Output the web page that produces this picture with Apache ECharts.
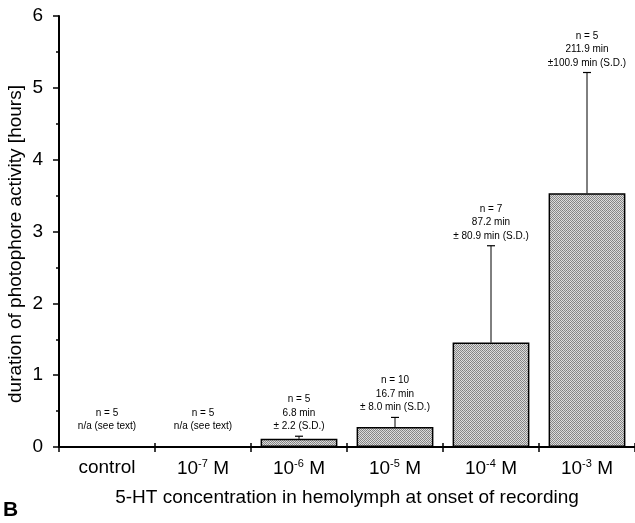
<!DOCTYPE html>
<html>
<head>
<meta charset="utf-8">
<script src="https://cdn.jsdelivr.net/npm/echarts@6/dist/echarts.min.js"></script>
<style>
html,body{margin:0;padding:0;background:#fff;}
#chart{width:635px;height:523px;}
</style>
</head>
<body>
<div id="chart"></div>
<script>
// ---- data ----
var categories = ['control', '10{sup|-7} M', '10{sup|-6} M', '10{sup|-5} M', '10{sup|-4} M', '10{sup|-3} M'];
var nValues = [5, 5, 5, 10, 7, 5];
var meanMinutes = [null, null, 6.8, 16.7, 87.2, 211.9];
var sdMinutes = [null, null, 2.2, 8.0, 80.9, 100.9];
var annotationLines = [
  ['n = 5', 'n/a (see text)'],
  ['n = 5', 'n/a (see text)'],
  ['n = 5', '6.8 min', '\u00b1 2.2 (S.D.)'],
  ['n = 10', '16.7 min', '\u00b1 8.0 min (S.D.)'],
  ['n = 7', '87.2 min', '\u00b1 80.9 min (S.D.)'],
  ['n = 5', '211.9 min', '\u00b1100.9 min (S.D.)']
];
var yTicks = [0, 1, 2, 3, 4, 5, 6];
var yTitle = 'duration of photophore activity [hours]';
var xTitle = '5-HT concentration in hemolymph at onset of recording';

// ---- derived (hours) ----
var meanHours = meanMinutes.map(function (v) { return v == null ? null : v / 60; });
var topHours = meanMinutes.map(function (v, i) { return v == null ? null : (v + sdMinutes[i]) / 60; });

// texture pattern for bars
var pc = document.createElement('canvas');
pc.width = 4; pc.height = 4;
var pctx = pc.getContext('2d');
var shades = [
  ['#808080', '#e0e0e0', '#8e8e8e', '#d8d8d8'],
  ['#dadada', '#8a8a8a', '#e4e4e4', '#848484'],
  ['#8c8c8c', '#d4d4d4', '#7c7c7c', '#dedede'],
  ['#d8d8d8', '#888888', '#dcdcdc', '#909090']
];
for (var r = 0; r < 4; r++) for (var c = 0; c < 4; c++) {
  pctx.fillStyle = shades[r][c];
  pctx.fillRect(c, r, 1, 1);
}

var FONT = 'Liberation Sans, Arial, Helvetica, sans-serif';
var chart = echarts.init(document.getElementById('chart'), null, {renderer: 'canvas'});

var option = {
  animation: false,
  backgroundColor: '#fff',
  grid: {left: 59, top: 16, width: 578, bottom: 76, containLabel: false},
  graphic: [{
    type: 'text', left: 3, top: 500,
    style: {text: 'B', font: 'bold 21px ' + FONT, fill: '#000'}
  }, {
    type: 'text', x: 16, y: 244, rotation: Math.PI / 2,
    style: {text: yTitle, font: '19px ' + FONT, fill: '#000', align: 'center', verticalAlign: 'middle'}
  }],
  xAxis: [{
    type: 'category',
    data: categories,
    boundaryGap: true,
    axisLine: {lineStyle: {color: '#000', width: 2}},
    axisTick: {show: true, length: 5, lineStyle: {color: '#000', width: 1.5}},
    axisLabel: {
      interval: 0,
      margin: 11, color: '#000', fontFamily: FONT, fontSize: 19,
      rich: {sup: {fontSize: 11, fontFamily: FONT, color: '#000', padding: [0, 0, 10, 0]}}
    },
    name: xTitle,
    nameLocation: 'middle',
    nameGap: 41,
    nameTextStyle: {color: '#000', fontFamily: FONT, fontSize: 19}
  }, {
    type: 'category',
    data: categories,
    position: 'bottom',
    axisLine: {show: false},
    axisTick: {show: true, inside: true, length: 4, lineStyle: {color: '#000', width: 1.5}},
    axisLabel: {show: false}
  }],
  yAxis: {
    type: 'value',
    min: 0, max: 6, interval: 1,
    axisLine: {show: true, lineStyle: {color: '#000', width: 2}},
    axisTick: {show: true, length: 6, lineStyle: {color: '#000', width: 1.5}},
    minorTick: {show: true, splitNumber: 2, length: 3, lineStyle: {color: '#000', width: 1.5}},
    splitLine: {show: false},
    axisLabel: {
      margin: 16, color: '#000', fontFamily: FONT, fontSize: 19,
      formatter: function (v) { return yTicks.indexOf(v) >= 0 ? String(v) : ''; }
    }
  },
  series: [{
    type: 'bar',
    data: meanHours,
    barWidth: '80%',
    itemStyle: {
      color: {image: pc, repeat: 'repeat'},
      borderColor: '#000',
      borderWidth: 1.5
    },
    z: 2
  }, {
    type: 'custom',
    data: categories.map(function (c, i) { return [i, meanHours[i] == null ? 0 : meanHours[i], topHours[i] == null ? 0 : topHours[i]]; }),
    renderItem: function (params, api) {
      var i = api.value(0);
      var base = api.coord([i, api.value(1)]);
      var top = api.coord([i, api.value(2)]);
      var children = [];
      var hasBar = meanHours[i] != null;
      if (hasBar) {
        children.push({type: 'line', shape: {x1: base[0], y1: base[1], x2: top[0], y2: top[1]}, style: {stroke: '#000', lineWidth: 1}});
        children.push({type: 'line', shape: {x1: top[0] - 4, y1: top[1], x2: top[0] + 4, y2: top[1]}, style: {stroke: '#000', lineWidth: 1.2}});
      }
      var lines = annotationLines[i];
      var gap = hasBar ? 3 : 14;
      children.push({
        type: 'text',
        style: {
          text: lines.join('\n'),
          x: top[0], y: top[1] - gap,
          align: 'center', verticalAlign: 'bottom',
          font: '10px ' + FONT, lineHeight: 13.5, fill: '#000'
        }
      });
      return {type: 'group', children: children};
    },
    z: 3
  }]
};
chart.setOption(option);
</script>
</body>
</html>
